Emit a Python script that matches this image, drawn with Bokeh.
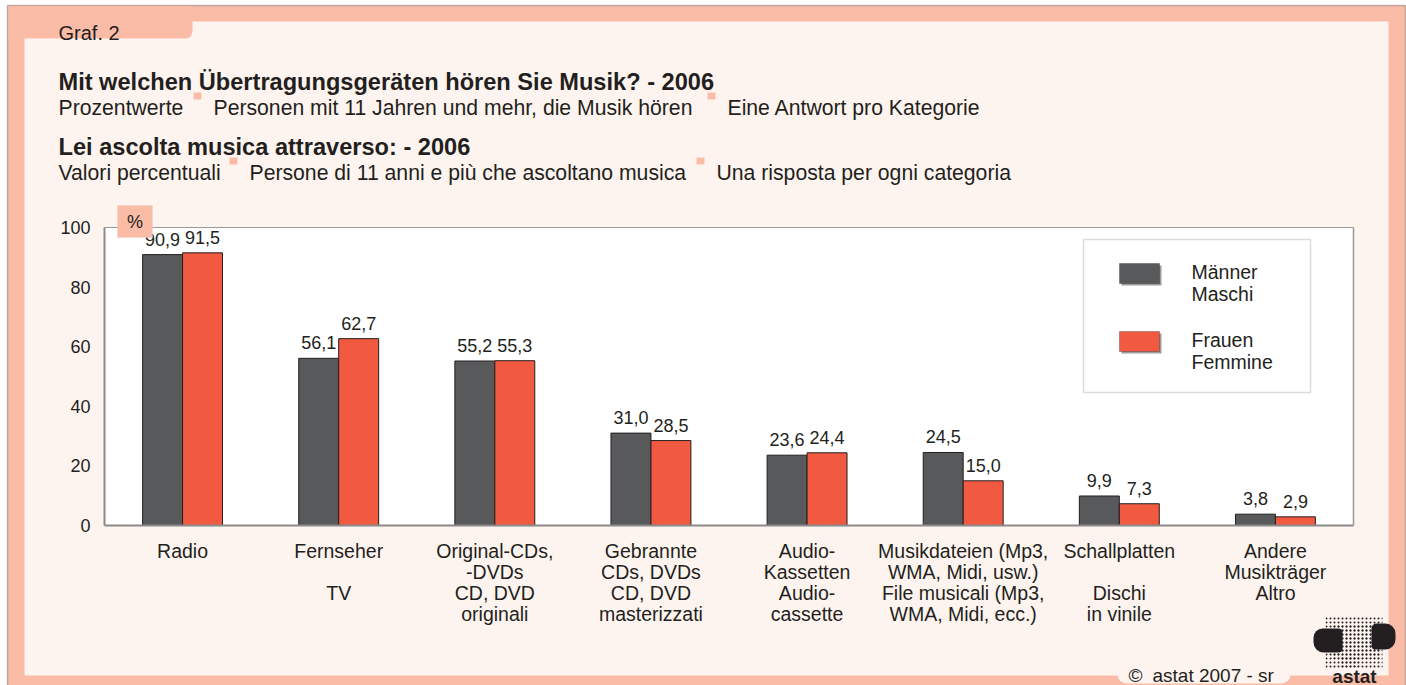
from bokeh.plotting import figure
from bokeh.models import Range1d, ColumnDataSource, Label, BoxAnnotation
from bokeh.core.properties import value
from bokeh.transform import dodge
from bokeh.embed import file_html
from bokeh.resources import INLINE

# ---------------- data ----------------
categories = [
    "Radio",
    "Fernseher\n\nTV",
    "Original-CDs,\n-DVDs\nCD, DVD\noriginali",
    "Gebrannte\nCDs, DVDs\nCD, DVD\nmasterizzati",
    "Audio-\nKassetten\nAudio-\ncassette",
    "Musikdateien (Mp3,\nWMA, Midi, usw.)\nFile musicali (Mp3,\nWMA, Midi, ecc.)",
    "Schallplatten\n\nDischi\nin vinile",
    "Andere\nMusikträger\nAltro",
]
maenner = [90.9, 56.1, 55.2, 31.0, 23.6, 24.5, 9.9, 3.8]
frauen = [91.5, 62.7, 55.3, 28.5, 24.4, 15.0, 7.3, 2.9]
y_ticks = [0, 20, 40, 60, 80, 100]
series_names = ["Männer\nMaschi", "Frauen\nFemmine"]

title_de = "Mit welchen Übertragungsgeräten hören Sie Musik? - 2006"
sub_de = ["Prozentwerte", "Personen mit 11 Jahren und mehr, die Musik hören", "Eine Antwort pro Kategorie"]
title_it = "Lei ascolta musica attraverso: - 2006"
sub_it = ["Valori percentuali", "Persone di 11 anni e più che ascoltano musica", "Una risposta per ogni categoria"]

# ---------------- style / layout ----------------
FONT = "Liberation Sans"
DARK = "#58595b"
RED = "#f15a40"
SALMON = "#fbbca7"
PALE = "#fef4ef"
TXT = "#231f20"
GRID = "#a3a3a3"

W, H = 1406, 685
PL, PR, PT, PB = 104, 1353, 227, 525   # plot area in canvas pixels
NCAT = len(categories)
YMAX = y_ticks[-1]

sx = (PR - PL) / NCAT
sy = (PB - PT) / YMAX
x_range = Range1d(0 - PL / sx, NCAT + (W - PR) / sx)
y_range = Range1d(0 - (H - PB) / sy, YMAX + PT / sy)

p = figure(width=W, height=H, output_backend="svg", toolbar_location=None,
           x_range=x_range, y_range=y_range, x_axis_type=None, y_axis_type=None,
           min_border=0, background_fill_color="white", border_fill_color="white")
p.outline_line_color = None
p.min_border_left = p.min_border_right = p.min_border_top = p.min_border_bottom = 0


def box(l, t, r, b, level="underlay", **kw):
    kw.setdefault("fill_alpha", 1)
    kw.setdefault("line_color", None)
    p.add_layout(BoxAnnotation(left=l, right=r, top=t, bottom=b, level=level,
                               left_units="canvas", right_units="canvas",
                               top_units="canvas", bottom_units="canvas", **kw))


def label(x, y, text, size="19.5px", style="normal", align="left", baseline="alphabetic", color=TXT):
    p.add_layout(Label(x=x, y=y, x_units="canvas", y_units="canvas", text=text,
                       text_font=FONT, text_font_size=size, text_font_style=style,
                       text_align=align, text_baseline=baseline, text_color=color))


# ---------------- background frame ----------------
box(7, 5, 1405, H + 10, fill_color=SALMON, line_color="#2b2b2b", line_width=1.5)
box(24, 21, 1388, 675, fill_color=PALE)
box(1117, 640, 1290, 683, fill_color=PALE, border_radius=(0, 0, 9, 9))
box(7.75, 5.75, 192, 38, fill_color=SALMON, border_radius=(0, 0, 7, 0))

# plot area (white) in data units
p.add_layout(BoxAnnotation(left=0, right=NCAT, bottom=0, top=YMAX, fill_color="white",
                           fill_alpha=1, line_color=None, level="underlay"))

# grid lines
gx = list(range(1, NCAT))
p.segment(x0=gx, x1=gx, y0=[0] * len(gx), y1=[YMAX] * len(gx), line_color=GRID, line_width=1, level="underlay")
gy = y_ticks[1:]
p.segment(x0=[0] * len(gy), x1=[NCAT] * len(gy), y0=gy, y1=gy, line_color=GRID, line_width=1, level="underlay")
# outline right / top
p.segment(x0=[NCAT], x1=[NCAT], y0=[0], y1=[YMAX], line_color="#999999", line_width=1.5)
p.segment(x0=[0], x1=[NCAT], y0=[YMAX], y1=[YMAX], line_color="#999999", line_width=1.2)

# ---------------- bars ----------------
xs = [i + 0.5 for i in range(NCAT)]
fmt = lambda v: f"{v:.1f}".replace(".", ",")
src = ColumnDataSource(dict(x=xs, m=maenner, f=frauen,
                            mt=[fmt(v) for v in maenner], ft=[fmt(v) for v in frauen]))
BW = 0.256
p.vbar(x=dodge("x", -BW / 2, range=p.x_range), top="m", bottom=0, width=BW, source=src,
       fill_color=DARK, line_color=TXT, line_width=1)
p.vbar(x=dodge("x", BW / 2, range=p.x_range), top="f", bottom=0, width=BW, source=src,
       fill_color=RED, line_color=TXT, line_width=1)

# axis lines (left / bottom)
p.segment(x0=[0], x1=[0], y0=[0], y1=[YMAX], line_color="#8a8a8a", line_width=2)
p.segment(x0=[0], x1=[NCAT], y0=[0], y1=[0], line_color="#8a8a8a", line_width=2)

# value labels
for col, tcol, off in (("m", "mt", -BW / 2), ("f", "ft", BW / 2)):
    p.text(x=dodge("x", off, range=p.x_range), y=col, text=tcol, source=src,
           y_offset=-9, text_align="center", text_baseline="bottom",
           text_font=value(FONT), text_font_size="18px", text_color=TXT)

# y tick labels
p.text(x=[0] * len(y_ticks), y=y_ticks, text=[str(t) for t in y_ticks], x_offset=-14,
       text_align="right", text_baseline="middle",
       text_font=value(FONT), text_font_size="18px", text_color=TXT)

# category labels
p.text(x=xs, y=[0] * NCAT, text=categories, y_offset=14,
       text_align="center", text_baseline="top", text_line_height=0.96,
       text_font=value(FONT), text_font_size="19.5px", text_color=TXT)

# ---------------- texts ----------------
label(58, 32, "Graf. 2", size="20px")
label(58, 81, title_de, size="23.6px", style="bold")
label(58, 146, title_it, size="23.6px", style="bold")
for y, segs, xpos, sq in ((107, sub_de, (58, 213, 727), (193, 707)),
                          (172, sub_it, (58, 249, 716), (229, 696))):
    for s, x in zip(segs, xpos):
        label(x, y, s, size="21.2px")
    for sqx in sq:
        box(sqx, y - 15, sqx + 8, y - 8, level="annotation", fill_color=SALMON)

# % box
box(117, 205, 152, 237, level="annotation", fill_color=SALMON, line_color="#e6cfc6", line_width=1)
label(134.5, 221, "%", size="18px", align="center", baseline="middle")

# legend
box(1083, 239, 1310, 392, level="annotation", fill_color="white", line_color="#8a8a8a", line_width=1.5)
for (top, col, name) in ((263, DARK, series_names[0]), (331, RED, series_names[1])):
    box(1121, top + 2, 1161, top + 22, level="annotation", fill_color="#9d9d9d")
    box(1119, top, 1159, top + 20, level="annotation", fill_color=col, line_color=TXT, line_width=1)
    l1, l2 = name.split("\n")
    label(1191, top + 8, l1, baseline="middle")
    label(1191, top + 30, l2, baseline="middle")

# copyright
label(1128, 675, "©", size="19px")
label(1152, 675, "astat 2007 - sr", size="19px")

# logo approximation (dotted map)
LOGO = "#231f20"
box(1325, 616, 1382, 668, level="annotation", fill_alpha=0, hatch_pattern="dot",
    hatch_color=LOGO, hatch_scale=4, hatch_weight=1.8)
box(1331, 624, 1379, 658, level="annotation", fill_alpha=0, hatch_pattern="dot",
    hatch_color=LOGO, hatch_scale=4, hatch_weight=3.8)
box(1340, 656, 1358, 667, level="annotation", fill_alpha=0, hatch_pattern="dot",
    hatch_color=LOGO, hatch_scale=4, hatch_weight=3.2)
box(1313, 628, 1342, 652, level="annotation", fill_color=LOGO, border_radius=(9, 4, 4, 10))
box(1371, 623, 1395, 649, level="annotation", fill_color=LOGO, border_radius=(5, 10, 10, 4))
label(1354, 686, "astat", size="19px", style="bold", align="center", baseline="bottom")

open("out.html", "w").write(file_html(p, INLINE))
